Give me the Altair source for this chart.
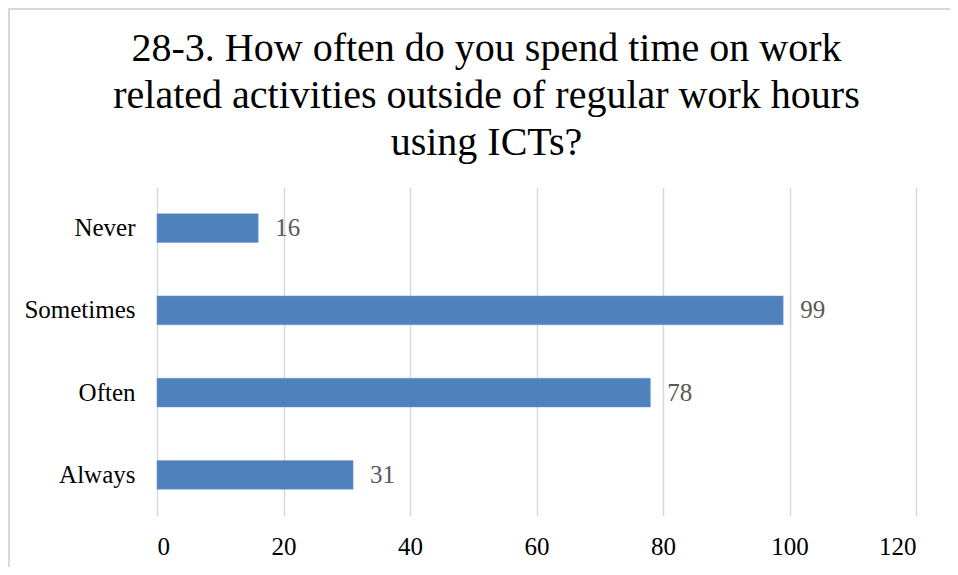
import altair as alt
import pandas as pd

categories = ["Never", "Sometimes", "Often", "Always"]
values = [16, 99, 78, 31]
x_ticks = [0, 20, 40, 60, 80, 100, 120]
title_lines = [
    "28-3. How often do you spend time on work",
    "related activities outside of regular work hours",
    "using ICTs?",
]

df = pd.DataFrame({"category": categories, "value": values})

FONT = "Liberation Serif"

y_enc = alt.Y(
    "category:N",
    sort=categories,
    scale=alt.Scale(paddingInner=0.65, paddingOuter=0.325),
    axis=alt.Axis(
        title=None, ticks=False, domain=False, labelPadding=22,
        labelFont=FONT, labelFontSize=25, labelColor="#000000",
    ),
)
x_enc = alt.X(
    "value:Q",
    scale=alt.Scale(domain=[0, 120], nice=False),
    axis=alt.Axis(
        title=None, values=x_ticks, ticks=False, domain=False,
        grid=True, gridColor="#d9d9d9", gridWidth=1.5,
        labelPadding=18, labelFont=FONT, labelFontSize=25, labelColor="#000000",
    ),
)

bars = alt.Chart(df).mark_bar(color="#4f81bd", stroke="#6f9ad0", strokeWidth=0.5).encode(
    x=x_enc, y=y_enc
)
labels = alt.Chart(df).mark_text(
    align="left", baseline="middle", dx=17, font=FONT, fontSize=25, color="#595959"
).encode(x="value:Q", y=alt.Y("category:N", sort=categories), text="value:Q")

border = alt.Chart(pd.DataFrame({"a": [0]})).mark_rect(
    fill=None, stroke="#d9d9d9", strokeWidth=2
).encode(
    x=alt.value(-148), x2=alt.value(900), y=alt.value(-178), y2=alt.value(500)
)

chart = alt.layer(border, bars, labels).properties(
    width=759,
    height=329,
    autosize=alt.AutoSizeParams(type="none"),
    padding={"left": 149, "top": 179, "right": 34, "bottom": 51},
    title=alt.TitleParams(
        text=title_lines, font=FONT, fontSize=40, fontWeight="normal",
        color="#000000", anchor="middle", dx=-50, offset=30, lineHeight=47,
        baseline="top", dy=185,
    ),
).configure_view(stroke=None)

chart.save("out.html", embed_options={"renderer": "svg", "actions": False})
